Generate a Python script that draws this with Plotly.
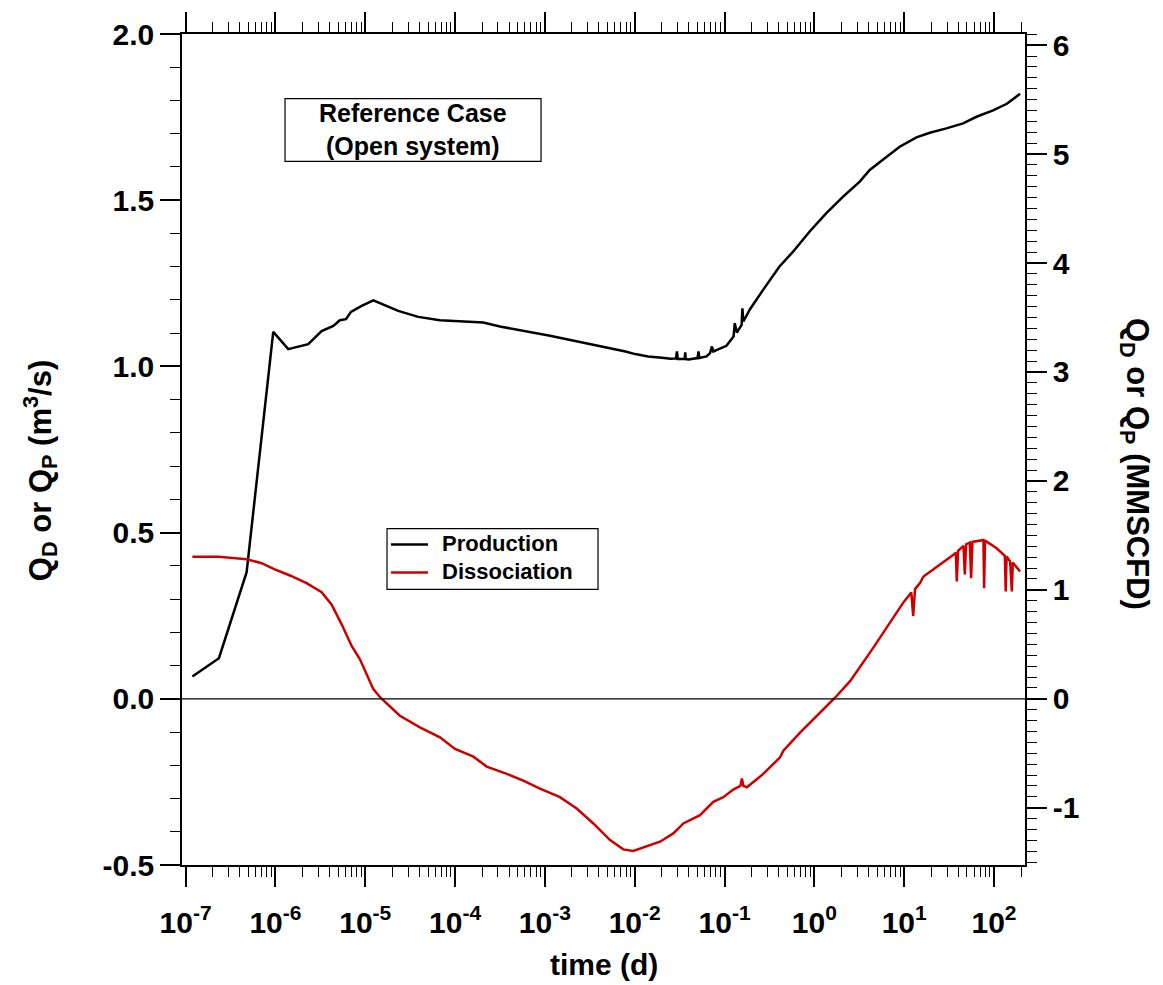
import plotly.graph_objects as go

# ---------------- data ----------------
prod_t = [1.19e-7, 2.35e-7, 4.78e-7, 9.46e-7, 1.39e-6, 2.32e-6, 3.27e-6, 4.41e-6, 5.22e-6,
          6.10e-6, 6.93e-6, 9.12e-6, 1.23e-5, 1.58e-5, 2.33e-5, 3.89e-5, 6.79e-5, 2.06e-4,
          3.16e-4, 1.14e-3, 3.98e-3, 7.9e-3, 1.01e-2, 1.26e-2, 1.41e-2, 2.0e-2, 2.51e-2,
          2.88e-2, 2.95e-2, 3.02e-2, 3.6e-2, 3.65e-2, 3.7e-2, 3.98e-2, 4.5e-2, 5.0e-2, 5.13e-2,
          5.25e-2, 6.3e-2, 6.9e-2, 7.24e-2, 7.5e-2, 1.05e-1, 1.26e-1, 1.30e-1, 1.37e-1, 1.55e-1,
          1.58e-1, 1.62e-1, 1.92e-1, 2.70e-1, 4.07e-1, 5.79e-1, 8.87e-1, 1.36, 2.09, 3.20, 4.14,
          6.08, 8.91, 13.7, 19.3, 29.5, 45.3, 63.8, 97.7, 139.0, 195.0]
prod_q = [0.067, 0.122, 0.381, 1.104, 1.052, 1.067, 1.106, 1.122, 1.139,
          1.142, 1.164, 1.182, 1.199, 1.187, 1.167, 1.149, 1.139, 1.132,
          1.120, 1.092, 1.062, 1.045, 1.037, 1.033, 1.030, 1.026, 1.023,
          1.024, 1.045, 1.022, 1.022, 1.042, 1.022, 1.021, 1.024, 1.025, 1.045,
          1.025, 1.030, 1.040, 1.060, 1.045, 1.062, 1.090, 1.130, 1.102, 1.125,
          1.175, 1.135, 1.172, 1.231, 1.300, 1.345, 1.406, 1.461, 1.511, 1.556, 1.591,
          1.626, 1.661, 1.689, 1.703, 1.716, 1.731, 1.751, 1.770, 1.790, 1.820]

diss_t = [1.19e-7, 2.34e-7, 4.79e-7, 7.01e-7, 9.55e-7, 1.45e-6, 2.22e-6, 3.27e-6, 4.23e-6,
          5.46e-6, 7.06e-6, 8.73e-6, 1.23e-5, 1.47e-5, 2.43e-5, 4.06e-5, 6.79e-5, 9.98e-5,
          1.60e-4, 2.25e-4, 3.76e-4, 5.75e-4, 8.81e-4, 1.47e-3, 2.26e-3, 3.46e-3, 5.31e-3,
          7.46e-3, 9.64e-3, 1.25e-2, 1.91e-2, 2.69e-2, 3.48e-2, 5.33e-2, 7.50e-2, 9.70e-2,
          1.25e-1, 1.50e-1, 1.56e-1, 1.62e-1, 1.77e-1, 2.70e-1, 4.15e-1, 4.52e-1, 6.97e-1,
          1.71, 2.51, 4.54, 7.59, 9.80, 12.0, 12.6, 13.2, 15.0, 16.4, 25.1, 35.3, 37.6, 38.5,
          39.8, 45.7, 47.3, 48.9, 53.7, 55.6, 57.5, 76.2, 77.6, 79.4, 107.0, 132.0, 135.0,
          138.0, 151.0, 158.0, 162.0, 195.0]
diss_q = [0.427, 0.427, 0.420, 0.408, 0.391, 0.371, 0.348, 0.321, 0.283,
          0.224, 0.159, 0.119, 0.029, 0.004, -0.051, -0.086, -0.116, -0.151,
          -0.174, -0.204, -0.226, -0.246, -0.270, -0.296, -0.330, -0.375, -0.425,
          -0.453, -0.458, -0.447, -0.430, -0.405, -0.375, -0.350, -0.310, -0.296,
          -0.273, -0.262, -0.240, -0.262, -0.266, -0.226, -0.176, -0.156, -0.101,
          0.004, 0.054, 0.154, 0.243, 0.290, 0.320, 0.249, 0.330, 0.348, 0.368, 0.403, 0.433, 0.440, 0.353,
          0.445, 0.460, 0.374, 0.465, 0.470, 0.363, 0.472, 0.478, 0.333, 0.476, 0.453, 0.430, 0.323,
          0.428, 0.413, 0.323, 0.410, 0.383]

series_names = ["Production", "Dissociation"]
series_colors = ["black", "#CC0000"]

x_tick_vals = [1e-7, 1e-6, 1e-5, 1e-4, 1e-3, 1e-2, 1e-1, 1e0, 1e1, 1e2]
x_tick_text = ["10<sup>-7</sup>", "10<sup>-6</sup>", "10<sup>-5</sup>", "10<sup>-4</sup>",
               "10<sup>-3</sup>", "10<sup>-2</sup>", "10<sup>-1</sup>", "10<sup>0</sup>",
               "10<sup>1</sup>", "10<sup>2</sup>"]
y_tick_vals = [-0.5, 0.0, 0.5, 1.0, 1.5, 2.0]
y_tick_text = ["-0.5", "0.0", "0.5", "1.0", "1.5", "2.0"]
y2_tick_vals = [-1, 0, 1, 2, 3, 4, 5, 6]
y2_tick_text = ["-1", "0", "1", "2", "3", "4", "5", "6"]
M3S_PER_MMSCFD = 0.32774

# ---------------- figure ----------------
FONT = "Liberation Sans, Arial, sans-serif"
minor_x = [k * 10.0 ** e for e in range(-8, 3) for k in range(2, 10)]

fig = go.Figure()
fig.add_trace(go.Scatter(x=prod_t, y=prod_q, mode="lines", name=series_names[0],
                         line=dict(color=series_colors[0], width=2.5)))
fig.add_trace(go.Scatter(x=diss_t, y=diss_q, mode="lines", name=series_names[1],
                         line=dict(color=series_colors[1], width=2.5)))
# invisible trace to activate right axis
fig.add_trace(go.Scatter(x=[1e-3], y=[0], yaxis="y2", mode="lines", showlegend=False,
                         line=dict(color="rgba(0,0,0,0)"), hoverinfo="skip"))

tickfont = dict(family=FONT, size=30, weight="bold")
fig.update_layout(
    width=1163, height=985,
    margin=dict(l=182, r=138, t=30, b=120),
    paper_bgcolor="white", plot_bgcolor="white",
    font=dict(family=FONT, color="black"),
    showlegend=False,
    xaxis=dict(type="log", range=[-7.04, 2.345], tickmode="array",
               tickvals=x_tick_vals, ticktext=x_tick_text,
               ticks="outside", ticklen=20, tickwidth=1.5, tickcolor="black",
               ticklabelstandoff=10,
               showline=True, linecolor="black", linewidth=1.5, mirror="ticks",
               showgrid=False, zeroline=False, tickfont=tickfont,
               minor=dict(tickmode="array", tickvals=minor_x, ticks="outside",
                          ticklen=10, tickwidth=1.2, tickcolor="black", showgrid=False)),
    yaxis=dict(range=[-0.5, 2.0], tickmode="array", tickvals=y_tick_vals,
               ticktext=y_tick_text, ticks="outside", ticklen=20, tickwidth=1.5,
               tickcolor="black", showline=True, linecolor="black", linewidth=1.5,
               mirror=False, showgrid=False, zeroline=False, tickfont=tickfont,
               minor=dict(tickmode="linear", tick0=0, dtick=0.1, ticks="outside", ticklen=10,
                          tickwidth=1.2, tickcolor="black", showgrid=False)),
    yaxis2=dict(overlaying="y", side="right", anchor="x",
                range=[-0.5 / M3S_PER_MMSCFD, 2.0 / M3S_PER_MMSCFD],
                tickmode="array", tickvals=y2_tick_vals, ticktext=y2_tick_text,
                ticks="outside", ticklen=20,
                tickwidth=1.5, tickcolor="black", showline=True, linecolor="black",
                linewidth=1.5, showgrid=False, zeroline=False, tickfont=tickfont,
                minor=dict(tickmode="linear", tick0=0, dtick=0.1, ticks="outside", ticklen=10,
                           tickwidth=1.2, tickcolor="black", showgrid=False)),
)

# zero line
fig.add_shape(type="line", xref="paper", yref="y", x0=0, x1=1, y0=0, y1=0,
              line=dict(color="black", width=1.2))

# "Reference Case" box
fig.add_shape(type="rect", xref="paper", yref="paper", x0=0.1222, x1=0.4259,
              y0=0.8467, y1=0.9222, line=dict(color="black", width=1.2), fillcolor="white")
fig.add_annotation(text="<b>Reference Case<br>(Open system)</b>", xref="paper", yref="paper",
                   x=0.274, y=0.8845, xanchor="center", yanchor="middle", showarrow=False,
                   font=dict(family=FONT, size=25))

# legend box (drawn manually)
fig.add_shape(type="rect", xref="paper", yref="paper", x0=0.2432, x1=0.4935,
              y0=0.3317, y1=0.4048, line=dict(color="black", width=1.2), fillcolor="white")
for name, col, yy in zip(series_names, series_colors, (0.3856, 0.3520)):
    fig.add_shape(type="line", xref="paper", yref="paper", x0=0.2479, x1=0.2918,
                  y0=yy, y1=yy, line=dict(color=col, width=2.5))
    fig.add_annotation(text="<b>" + name + "</b>", xref="paper", yref="paper",
                       x=0.3061, y=yy + 0.001, xanchor="left", yanchor="middle",
                       showarrow=False, font=dict(family=FONT, size=22))

# axis titles
fig.add_annotation(text="<b>time (d)</b>", xref="paper", yref="paper", x=0.5006, y=-0.1198,
                   xanchor="center", yanchor="middle", showarrow=False,
                   font=dict(family=FONT, size=30))
fig.add_annotation(text="<b>Q<sub>D</sub> or Q<sub>P</sub> (m<sup>3</sup>/s)</b>",
                   xref="paper", yref="paper", x=-0.1684, y=0.474, textangle=-90,
                   xanchor="center", yanchor="middle", showarrow=False,
                   font=dict(family=FONT, size=31))
fig.add_annotation(text="<b>Q<sub>D</sub> or Q<sub>P</sub> (MMSCFD)</b>",
                   xref="paper", yref="paper", x=1.1305, y=0.4826, textangle=90,
                   xanchor="center", yanchor="middle", showarrow=False,
                   font=dict(family=FONT, size=31))

fig.write_html("out.html")
